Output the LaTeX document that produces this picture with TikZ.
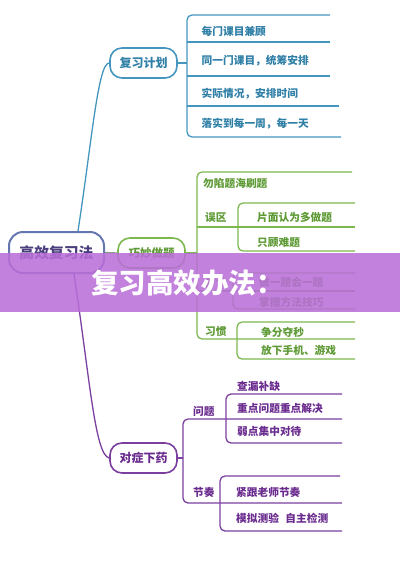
\documentclass[tikz,border=0pt]{standalone}
\usepackage{fontspec}
\newfontfamily\cjk{Noto Sans CJK SC}
\definecolor{bl}{HTML}{4596BE}
\definecolor{blt}{HTML}{2F7FA6}
\definecolor{gr}{HTML}{7DB84F}
\definecolor{grt}{HTML}{5E9A35}
\definecolor{pu}{HTML}{7B3FA0}
\definecolor{put}{HTML}{6A2B8E}
\definecolor{rt}{HTML}{4A3E7E}
\definecolor{rb}{HTML}{6676B0}
\definecolor{ban}{HTML}{B96ED8}
\definecolor{lk}{HTML}{8C9A80}
\begin{document}
\begin{tikzpicture}[x=1pt,y=-1pt,
 topic/.style={draw, line width=1.6pt, rounded corners=12pt, minimum width=67pt, minimum height=30pt, inner sep=0pt, font=\cjk\bfseries\fontsize{12}{12}\selectfont},
 item/.style={anchor=west, inner sep=0pt, font=\cjk\bfseries\fontsize{10.7}{10.7}\selectfont},
 br/.style={line width=1.3pt, rounded corners=5pt},
 ln/.style={line width=1.3pt},
]
\useasboundingbox (0,0) rectangle (400,565);

% topics
\node[topic, draw=rb, line width=2pt, rounded corners=14pt, minimum width=95pt, minimum height=41pt, text=rt, font=\cjk\bfseries\fontsize{14.8}{14.8}\selectfont] (root) at (56.5,252.5) {高效复习法};
\node[topic, draw=bl, text=blt] (n1) at (143.5,63) {复习计划};
\node[topic, draw=gr, text=grt, font=\cjk\bfseries\fontsize{11.5}{11.5}\selectfont] (n2) at (151.5,253) {巧妙做题};
\node[topic, draw=pu, text=put] (n3) at (143.5,458) {对症下药};

% main connectors
\draw[bl, ln] ([xshift=21.5pt]root.north) .. controls (92,140) and (98,63) .. (n1.west);
\draw[pu, ln] ([xshift=17.5pt]root.south) .. controls (90,380) and (95,455) .. (n3.west);
\draw[lk, ln] (root.east) -- (n2.west);

% blue bracket
\draw[bl, ln] (n1.east) -- (187,63);
\draw[bl, br] (330,15) -- (187,15) -- (187,137) -- (341,137);
\draw[bl, ln] (187,42) -- (330,42) (187,76) -- (330,76) (187,106) -- (339,106);

% green brackets
\draw[gr, ln] (n2.east) -- (197,253);
\draw[gr, br] (352,172) -- (197,172) -- (197,339) -- (355,339);
\draw[gr, ln] (197,227) -- (355,227) (197,291) -- (355,291);
\draw[gr, br] (355,203) -- (238,203) -- (238,251) -- (355,251);
\draw[gr, br] (355,273) -- (233,273) -- (233,309) -- (355,309);
\draw[gr, br] (355,322) -- (237,322) -- (237,359) -- (355,359);

% purple brackets
\draw[pu, ln] (n3.east) -- (183,458);
\draw[pu, br] (342,419) -- (183,419) -- (183,503) -- (342,503);
\draw[pu, br] (342,394) -- (226,394) -- (226,443) -- (342,443);
\draw[pu, br] (340,476) -- (220,476) -- (220,531) -- (342,531);

% blue items
\node[item, text=blt] (b1) at (201.5,31) {每门课目兼顾};
\node[item, text=blt] (b2) at (201.5,61) {同一门课目，统筹安排};
\node[item, text=blt] (b3) at (201.5,94) {实际情况，安排时间};
\node[item, text=blt] (b4) at (201.5,124) {落实到每一周，每一天};

% green items
\node[item, text=grt] (g1) at (203,183) {勿陷题海刷题};
\node[item, text=grt] (g2) at (205,217) {误区};
\node[item, text=grt] (g3) at (257,217) {片面认为多做题};
\node[item, text=grt] (g4) at (257,242) {只顾难题};
\node[item, text=grt] (g5) at (205,282) {方法};
\node[item, text=grt] (g6) at (259,282) {做一题会一题};
\node[item, text=grt] (g7) at (259,302) {掌握方法技巧};
\node[item, text=grt] (g8) at (205,331) {习惯};
\node[item, text=grt] (g9) at (261,332) {争分夺秒};
\node[item, text=grt] (g10) at (261,350) {放下手机、游戏};

% purple items
\node[item, text=put] (p1) at (193,411) {问题};
\node[item, text=put] (p2) at (237,386) {查漏补缺};
\node[item, text=put] (p3) at (237,408) {重点问题重点解决};
\node[item, text=put] (p4) at (237,431) {弱点集中对待};
\node[item, text=put] (p5) at (193,492) {节奏};
\node[item, text=put] (p6) at (236,492) {紧跟老师节奏};
\node[item, text=put] (p7) at (236,518) {模拟测验\hspace{0.6em}自主检测};

% banner
\fill[ban, fill opacity=0.87] (0,253) rectangle (400,312);
\node[anchor=west, inner sep=0pt, text=white, font=\cjk\bfseries\fontsize{27.5}{27.5}\selectfont] (ban) at (91,283) {复习高效办法：};
\end{tikzpicture}
\end{document}
